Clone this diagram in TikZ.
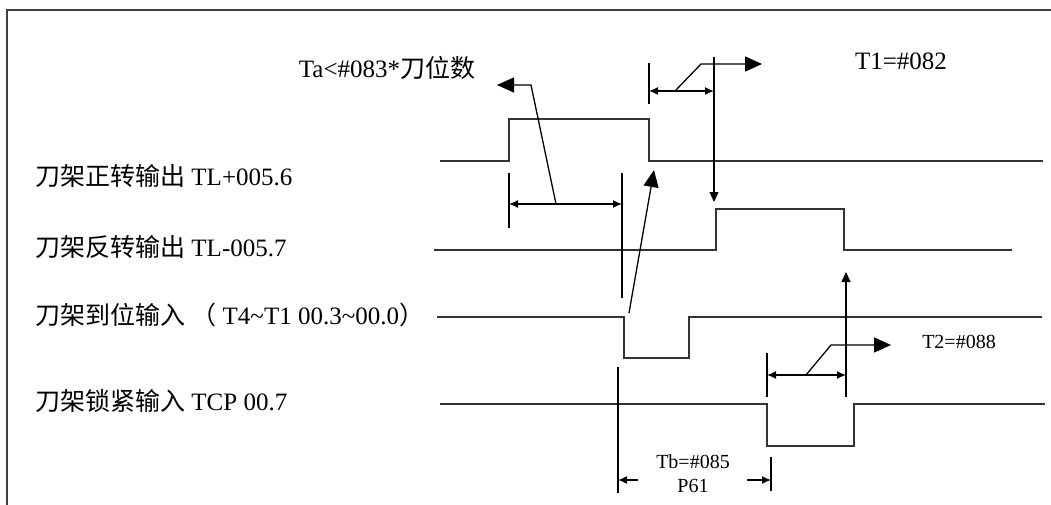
\documentclass[tikz,border=0pt]{standalone}
\usepackage{fontspec}
\setmainfont{Liberation Serif}
\newfontfamily\cjk{Noto Sans CJK SC}
\usetikzlibrary{arrows.meta}
\begin{document}
\begin{tikzpicture}[x=1pt,y=-1pt,
  frame/.style={line width=2pt, draw=black!75},
  sig/.style={line width=2pt, draw=black!80},
  ann/.style={line width=1.3pt, draw=black},
  dimline/.style={ann, {Latex[length=9pt,width=8pt]}-{Latex[length=9pt,width=8pt]}},
  dimhead/.style={ann, -{Latex[length=9pt,width=8pt]}},
  bighead/.style={ann, -{Triangle[length=17pt,width=15pt]}},
  smallhead/.style={ann, -{Triangle[length=10pt,width=9pt]}},
  lbl/.style={anchor=west, inner sep=0pt, font=\fontsize{25}{28}\selectfont},
  big/.style={inner sep=0pt, font=\fontsize{25}{28}\selectfont},
  sm/.style={inner sep=0pt, font=\fontsize{20}{22}\selectfont}]
\useasboundingbox (0,0) rectangle (1051,505);
% frame
\draw[frame] (1051,10) -- (7,10) -- (7,505);
% signals
\draw[sig] (440,161) -- (509,161) -- (509,119) -- (649,119) -- (649,161) -- (1043,161);
\draw[sig] (434,250) -- (716,250) -- (716,209) -- (844,209) -- (844,250) -- (1012,250);
\draw[sig] (437,317) -- (624,317) -- (624,358) -- (689,358) -- (689,317) -- (1042,317);
\draw[sig] (440,404) -- (767,404) -- (767,446) -- (854,446) -- (854,404) -- (1045,404);
% signal labels
\node[lbl] (l1) at (35,176) {{\cjk 刀架正转输出} TL+005.6};
\node[lbl] (l2) at (35,247) {{\cjk 刀架反转输出} TL-005.7};
\node[lbl] (l3) at (35,315) {{\cjk 刀架到位输入} {\cjk （} T4\textasciitilde T1 00.3\textasciitilde 00.0{\cjk ）}};
\node[lbl] (l4) at (35,401) {{\cjk 刀架锁紧输入} TCP 00.7};
% Ta annotation
\node[big] (ta) at (387,68) {Ta<\#083*{\cjk 刀位数}};
\draw[ann] (509,173) -- (509,228);
\draw[ann] (622,173) -- (622,298);
\coordinate (taL) at (509,204);
\coordinate (taR) at (622,204);
\draw[dimline] (taL) -- (taR);
\coordinate (taM) at (556,204);
\coordinate (taK) at (531,85);
\coordinate (taE) at (497,85);
\draw[bighead] (taM) -- (taK) -- (taE);
% arrow from in-position fall to forward-rotation fall
\coordinate (p3f) at (629,313);
\coordinate (p1f) at (654,170);
\draw[bighead] (p3f) -- (p1f);
% T1 annotation
\node[big] (t1) at (901,61) {T1=\#082};
\draw[ann] (649,63) -- (649,104);
\coordinate (t1top) at (714,57);
\coordinate (t1bot) at (714,202);
\draw[smallhead] (t1top) -- (t1bot);
\draw[dimline] (649,91) -- (714,91);
\coordinate (t1M) at (675,91);
\coordinate (t1K) at (701,64);
\coordinate (t1E) at (762,64);
\draw[bighead] (t1M) -- (t1K) -- (t1E);
% T2 annotation
\node[sm] (t2) at (959,342) {T2=\#088};
\draw[ann] (767,353) -- (767,397);
\coordinate (t2bot) at (846,397);
\coordinate (t2top) at (846,272);
\draw[smallhead] (t2bot) -- (t2top);
\draw[dimline] (767,375) -- (846,375);
\coordinate (t2M) at (806,375);
\coordinate (t2K) at (831,345);
\coordinate (t2E) at (891,345);
\draw[bighead] (t2M) -- (t2K) -- (t2E);
% Tb annotation
\draw[ann] (618,367) -- (618,493);
\draw[ann] (771,457) -- (771,491);
\draw[dimhead] (638,480) -- (618,480);
\draw[dimhead] (747,480) -- (771,480);
\node[sm] (tb) at (693,462) {Tb=\#085};
\node[sm] (p61) at (693,486) {P61};
\end{tikzpicture}
\end{document}
